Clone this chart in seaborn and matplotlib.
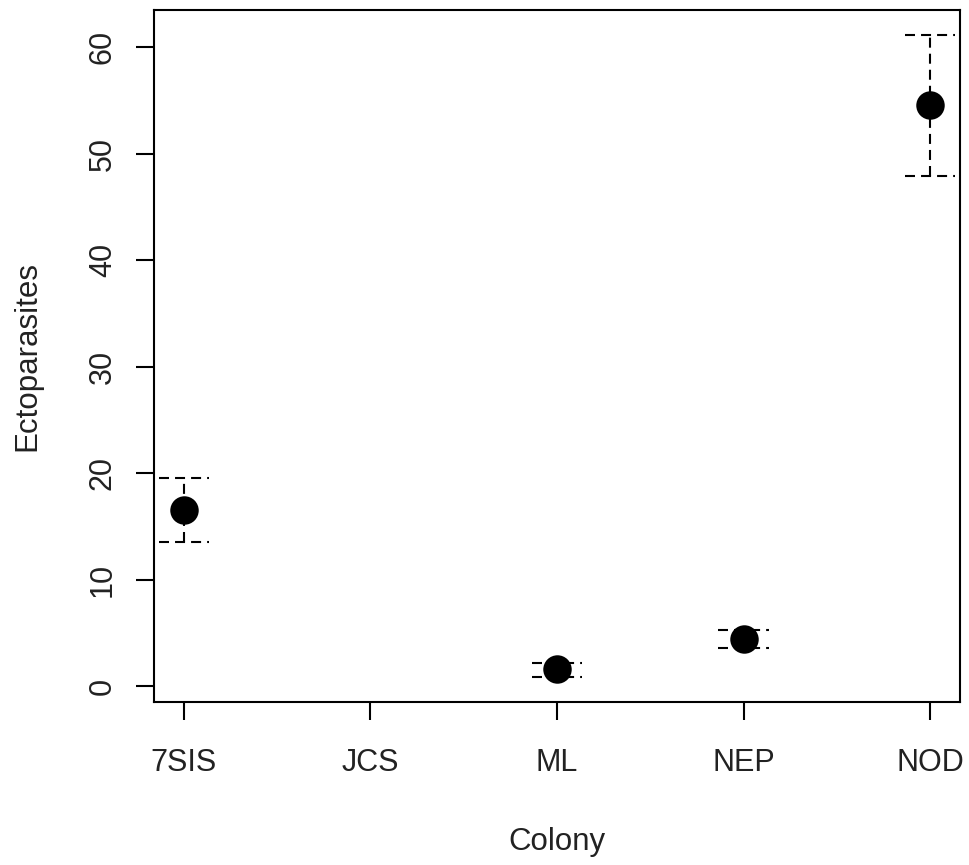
import matplotlib
matplotlib.use("Agg")
import matplotlib.pyplot as plt
import numpy as np
import pandas as pd
import seaborn as sns

# Mean ectoparasite counts per colony, with lower / upper error limits
colonies = ["7SIS", "JCS", "ML", "NEP", "NOD"]
means = [16.55, np.nan, 1.6, 4.4, 54.6]
lower = [13.55, np.nan, 0.88, 3.6, 47.95]
upper = [19.55, np.nan, 2.15, 5.25, 61.15]

df = pd.DataFrame({
    "pos": np.arange(1, len(colonies) + 1),
    "colony": colonies,
    "mean": means,
    "lower": lower,
    "upper": upper,
})

sns.set_style("white")
plt.rcParams["font.family"] = ["Liberation Sans", "DejaVu Sans"]

fig = plt.figure(figsize=(9.69, 8.65), dpi=100)
ax = fig.add_axes([154 / 969, 1 - 702 / 865, (960 - 154) / 969, (702 - 9.5) / 865])

# Dashed error bars with dashed caps (R arrows() look)
ok = df.dropna()
cap = 0.135
dash = (0, (4.8, 2.9))
ax.vlines(ok["pos"], ok["lower"], ok["upper"], colors="black",
          linestyles=dash, linewidth=1.5, zorder=2)
ax.hlines(ok["lower"], ok["pos"] - cap, ok["pos"] + cap, colors="black",
          linestyles=dash, linewidth=1.5, zorder=2)
ax.hlines(ok["upper"], ok["pos"] - cap, ok["pos"] + cap, colors="black",
          linestyles=dash, linewidth=1.5, zorder=2)

sns.scatterplot(data=ok, x="pos", y="mean", s=420, color="black",
                edgecolor="black", linewidth=0, ax=ax, zorder=3)

ax.set_xlim(0.84, 5.16)
ax.set_ylim(-1.5, 63.55)
ax.set_xticks(df["pos"])
ax.set_xticklabels(colonies)
ax.set_yticks([0, 10, 20, 30, 40, 50, 60])
ax.set_yticklabels(["0", "10", "20", "30", "40", "50", "60"],
                   rotation=90, va="center")

for s in ax.spines.values():
    s.set_visible(True)
    s.set_color("black")
    s.set_linewidth(1.5)

ax.tick_params(axis="both", which="both", direction="out", length=13,
               width=1.5, color="black", labelsize=22, labelcolor="#222222",
               left=True, bottom=True)
ax.tick_params(axis="x", pad=20)
ax.tick_params(axis="y", pad=13)

ax.set_xlabel("Colony", fontsize=22.5, color="#222222")
ax.set_ylabel("Ectoparasites", fontsize=22.5, color="#222222")
ax.xaxis.label.set_va("center")
ax.yaxis.label.set_va("center")
ax.xaxis.set_label_coords(0.5, (702 - 842) / 692.5)
ax.yaxis.set_label_coords((27 - 154) / 806, 0.5)

fig.savefig("out.png", dpi=100)
